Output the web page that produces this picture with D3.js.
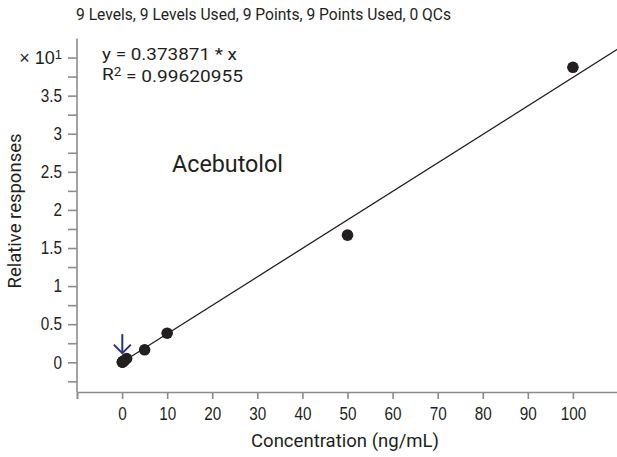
<!DOCTYPE html>
<html>
<head>
<meta charset="utf-8">
<script src="https://cdn.jsdelivr.net/npm/d3@7"></script>
<style>
  body { margin: 0; background: #fff; }
  svg { display: block; font-family: Roboto, 'Liberation Sans', sans-serif; }
  .axis path, .axis line { stroke: #8c8c8c; stroke-width: 1.6; }
  .axis text { fill: #231f20; font-size: 18px; }
</style>
</head>
<body>
<svg id="chart" width="617" height="457"></svg>
<script>
const concentrations = [0.05, 0.1, 0.2, 0.5, 1, 5, 10, 50, 100]
const responses = [0.002, 0.004, 0.009, 0.022, 0.05, 0.164, 0.382, 1.669, 3.872]
const slope = 0.373871
const rSquared = '0.99620955'
const xTicks = [-10, 0, 10, 20, 30, 40, 50, 60, 70, 80, 90, 100]
const yTicks = [-0.25, 0, 0.25, 0.5, 0.75, 1, 1.25, 1.5, 1.75, 2, 2.25, 2.5, 2.75, 3, 3.25, 3.5, 3.75, 4]
const title = '9 Levels, 9 Levels Used, 9 Points, 9 Points Used, 0 QCs'
const compound = 'Acebutolol'

const svg = d3.select('#chart')
const ink = '#231f20'
const margin = { top: 38.5, left: 77, bottom: 65, right: 0 }
const width = +svg.attr('width')
const height = +svg.attr('height')

const x = d3.scaleLinear().domain([-10, 110]).range([margin.left, width - margin.right + 1])
const y = d3.scaleLinear().domain([-0.39, 4.25]).range([height - margin.bottom, margin.top])

// squeeze text a bit to mimic the condensed face of the original
const condense = (k) => (_, i, nodes) => {
	const len = nodes[i].getComputedTextLength()
	if (len > 0) d3.select(nodes[i]).attr('textLength', len * k).attr('lengthAdjust', 'spacingAndGlyphs')
}
const fitTo = (sel, w) => sel.attr('textLength', w).attr('lengthAdjust', 'spacingAndGlyphs')

// axes
const gx = svg.append('g').classed('axis', true)
	.attr('transform', `translate(0, ${y.range()[0]})`)
	.call(d3.axisBottom(x).tickValues(xTicks).tickSize(7).tickPadding(8)
		.tickFormat((d) => d < 0 ? '' : d))
gx.selectAll('text').each(condense(0.85))

const fmtY = (d) => {
	if (d === 4) return ''
	return Math.abs(d * 2 - Math.round(d * 2)) < 1e-6 ? d3.format('~g')(d) : ''
}
const gy = svg.append('g').classed('axis', true)
	.attr('transform', `translate(${x.range()[0]}, 0)`)
	.call(d3.axisLeft(y).tickValues(yTicks).tickSize(9).tickPadding(6).tickFormat(fmtY))
gy.select('.domain').attr('d', `M0,${y.range()[1]}V${y.range()[0]}`)
gy.selectAll('text').each(condense(0.85))

// exponent label at the top tick
const expTick = gy.selectAll('.tick').filter((d) => d === 4).select('text')
expTick.text('× 10')
expTick.append('tspan').attr('dy', '-0.4em').style('font-size', '13px').text('1')

// fit line
const fit = d3.line().x((d) => x(d)).y((d) => y(slope * d / 10))
svg.append('path')
	.datum([0, x.domain()[1]])
	.attr('d', fit)
	.attr('fill', 'none')
	.attr('stroke', ink)
	.attr('stroke-width', 1.3)

// points
svg.append('g').selectAll('circle')
	.data(concentrations.map((c, i) => ({ c, r: responses[i] })))
	.join('circle')
	.attr('cx', (d) => x(d.c))
	.attr('cy', (d) => y(d.r))
	.attr('r', 5.8)
	.attr('fill', ink)

// arrow at the lowest level
const ax = x(concentrations[0])
const tip = y(responses[0]) - 9
const arrow = svg.append('g').attr('stroke', '#2b2f8c').attr('stroke-width', 2).attr('fill', 'none')
arrow.append('path').attr('d', `M${ax},${tip - 19}V${tip}`)
arrow.append('path').attr('d', `M${ax - 8.5},${tip - 8.5}L${ax},${tip}L${ax + 8.5},${tip - 8.5}`)

// texts
fitTo(svg.append('text').attr('x', 76).attr('y', 20)
	.style('font-size', '16px').attr('fill', ink).text(title), 375)

fitTo(svg.append('text').attr('x', 102).attr('y', 60)
	.style('font-size', '17px').attr('fill', ink).text(`y = ${slope} * x`), 135)

const r2 = svg.append('text').attr('x', 102).attr('y', 80)
	.style('font-size', '17px').attr('fill', ink)
r2.append('tspan').text('R')
r2.append('tspan').attr('dy', '-0.35em').style('font-size', '12px').text('2')
r2.append('tspan').attr('dy', '0.35em').text(` = ${rSquared}`)
fitTo(r2, 141)

fitTo(svg.append('text').attr('x', 172).attr('y', 172)
	.style('font-size', '24px').attr('fill', ink).text(compound), 111)

fitTo(svg.append('text').attr('x', 345).attr('y', 447)
	.attr('text-anchor', 'middle')
	.style('font-size', '18px').attr('fill', ink).text('Concentration (ng/mL)'), 188)

fitTo(svg.append('text')
	.attr('transform', 'translate(21, 211) rotate(-90)')
	.attr('text-anchor', 'middle')
	.style('font-size', '18px').attr('fill', ink).text('Relative responses'), 155)
</script>
</body>
</html>
